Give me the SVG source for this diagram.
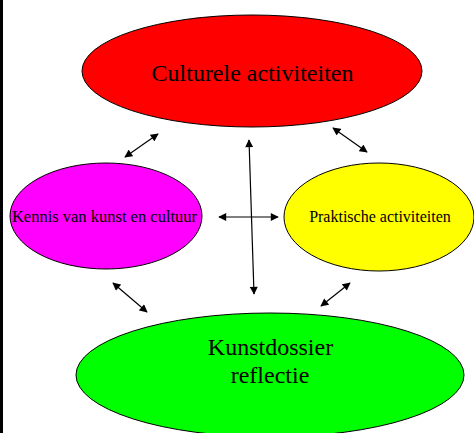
<svg xmlns="http://www.w3.org/2000/svg" width="474" height="433" viewBox="0 0 474 433">
  <style>
    .node { stroke: #000; stroke-width: 1; }
    .label { font-family: "Liberation Serif", "Times New Roman", serif; fill: #000; text-anchor: middle; }
    .link { stroke: #000; stroke-width: 1.2; fill: none; marker-start: url(#head); marker-end: url(#head); }
  </style>
  <defs>
    <marker id="head" viewBox="0 0 10 10" refX="9" refY="5" markerWidth="9" markerHeight="8" markerUnits="userSpaceOnUse" orient="auto-start-reverse">
      <path d="M0,0 L10,5 L0,10 Z" fill="#000"/>
    </marker>
  </defs>

  <rect x="0" y="0" width="474" height="433" fill="#fff"/>
  <rect x="0" y="0" width="3" height="433" fill="#000"/>

  <g id="culturele-activiteiten">
    <ellipse class="node" cx="252" cy="71" rx="170" ry="56" fill="#ff0000"/>
    <text class="label" x="252.5" y="81" font-size="24">Culturele activiteiten</text>
  </g>

  <g id="kennis">
    <ellipse class="node" cx="106" cy="216" rx="96" ry="53" fill="#ff00ff"/>
    <text class="label" x="104.5" y="222" font-size="16.5">Kennis van kunst en cultuur</text>
  </g>

  <g id="praktische-activiteiten">
    <ellipse class="node" cx="379" cy="217" rx="95" ry="54" fill="#ffff00"/>
    <text class="label" x="380" y="222" font-size="16">Praktische activiteiten</text>
  </g>

  <g id="kunstdossier">
    <ellipse class="node" cx="270" cy="375" rx="194" ry="62" fill="#00ff00"/>
    <text class="label" x="270.5" y="355" font-size="24">Kunstdossier</text>
    <text class="label" x="270" y="383" font-size="24">reflectie</text>
  </g>

  <g id="connectors">
    <line class="link" x1="158" y1="134" x2="125" y2="157"/>
    <line class="link" x1="333" y1="128" x2="367" y2="152"/>
    <line class="link" x1="113" y1="283" x2="147" y2="312"/>
    <line class="link" x1="350" y1="283" x2="321" y2="306"/>
    <line class="link" x1="249" y1="140" x2="254" y2="294"/>
    <line class="link" x1="219" y1="217" x2="278" y2="217"/>
  </g>
</svg>
